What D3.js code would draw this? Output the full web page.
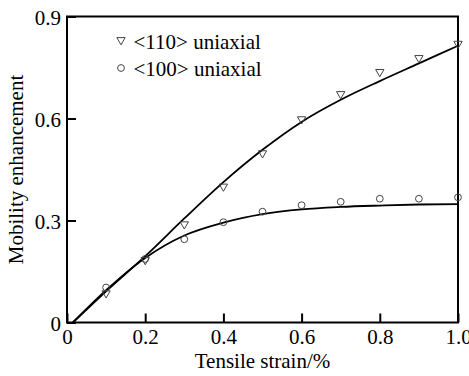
<!DOCTYPE html>
<html><head><meta charset="utf-8">
<script src="https://cdn.jsdelivr.net/npm/d3@7"></script>
<style>body{margin:0;background:#fff}</style>
</head><body><svg id="c" width="469" height="376"></svg>
<script>
const xTicks = [0, 0.2, 0.4, 0.6, 0.8, 1.0];
const xTickLabels = ["0", "0.2", "0.4", "0.6", "0.8", "1.0"];
const yTicks = [0, 0.3, 0.6, 0.9];
const yTickLabels = ["0", "0.3", "0.6", "0.9"];
const strain = [0.1, 0.2, 0.3, 0.4, 0.5, 0.6, 0.7, 0.8, 0.9, 1.0];
const pts110 = [0.086, 0.184, 0.289, 0.40, 0.498, 0.598, 0.672, 0.737, 0.778, 0.82];
const pts100 = [0.103, 0.187, 0.245, 0.295, 0.326, 0.345, 0.355, 0.364, 0.364, 0.368];
const fitX = [0.015, 0.1, 0.2, 0.3, 0.4, 0.5, 0.6, 0.7, 0.8, 0.9, 1.0];
const fit110 = [0, 0.092, 0.195, 0.306, 0.413, 0.508, 0.59, 0.655, 0.71, 0.762, 0.814];
const fit100 = [0, 0.095, 0.19, 0.256, 0.294, 0.319, 0.333, 0.34, 0.344, 0.347, 0.348];
const legendLabels = ["<110> uniaxial", "<100> uniaxial"];

const FONT = '"Liberation Serif"';
const FS = "21px";
const svg = d3.select("#c");
const L = 67, R = 458, T = 16.5, B = 322.5;
const x = d3.scaleLinear().domain([0, 1]).range([L, R]);
const y = d3.scaleLinear().domain([0, 0.9]).range([B, T]);

const xAxis = d3.axisBottom(x).tickValues(xTicks).tickFormat((d,i)=>xTickLabels[i]).tickSizeInner(-9).tickSizeOuter(0).tickPadding(6);
const gx = svg.append("g").attr("transform", `translate(0,${B})`).call(xAxis);
const yAxis = d3.axisLeft(y).tickValues(yTicks).tickFormat((d,i)=>yTickLabels[i]).tickSizeInner(-9).tickSizeOuter(0).tickPadding(6);
const gy = svg.append("g").attr("transform", `translate(${L},0)`).call(yAxis);
[gx, gy].forEach(g => {
  g.attr("font-family", null).attr("font-size", null);
  g.select(".domain").remove();
  g.selectAll(".tick line").attr("stroke", "#000").attr("stroke-width", 2);
  g.selectAll(".tick text").style("font-family", FONT).style("font-size", FS).attr("fill", "#000");
});
gy.selectAll(".tick text").attr("dy", "0.38em");
gx.selectAll(".tick text").attr("dy", "0.72em");

svg.append("rect").attr("x", L).attr("y", T).attr("width", R - L).attr("height", B - T)
  .attr("fill", "none").attr("stroke", "#000").attr("stroke-width", 2);

const line = d3.line().x(d => x(d[0])).y(d => y(d[1])).curve(d3.curveMonotoneX);
[fit110, fit100].forEach(f => {
  svg.append("path").attr("d", line(fitX.map((v, i) => [v, f[i]])))
    .attr("fill", "none").attr("stroke", "#000").attr("stroke-width", 1.8);
});

const tri = d3.symbol().type(d3.symbolTriangle).size(30);
function drawTri(g, cx, cy) {
  g.append("path").attr("d", tri()).attr("transform", `translate(${cx},${cy}) rotate(180)`)
    .attr("fill", "none").attr("stroke", "#444").attr("stroke-width", 1);
}
function drawCirc(g, cx, cy) {
  g.append("circle").attr("cx", cx).attr("cy", cy).attr("r", 3.4)
    .attr("fill", "none").attr("stroke", "#444").attr("stroke-width", 1);
}
strain.forEach((s, i) => drawTri(svg, x(s), y(pts110[i])));
strain.forEach((s, i) => drawCirc(svg, x(s), y(pts100[i])));

function txt(xp, yp, s) {
  return svg.append("text").attr("x", xp).attr("y", yp).style("font-family", FONT).style("font-size", FS).attr("fill", "#000").text(s);
}
drawTri(svg, 121, 40);
drawCirc(svg, 121, 68);
txt(133.5, 48.5, legendLabels[0]);
txt(133.5, 76, legendLabels[1]);

txt((L + R) / 2, 368, "Tensile strain/%").attr("text-anchor", "middle");
txt(0, 0, "Mobility enhancement").attr("transform", `translate(23,${(T + B) / 2}) rotate(-90)`).attr("text-anchor", "middle");
</script></body></html>
